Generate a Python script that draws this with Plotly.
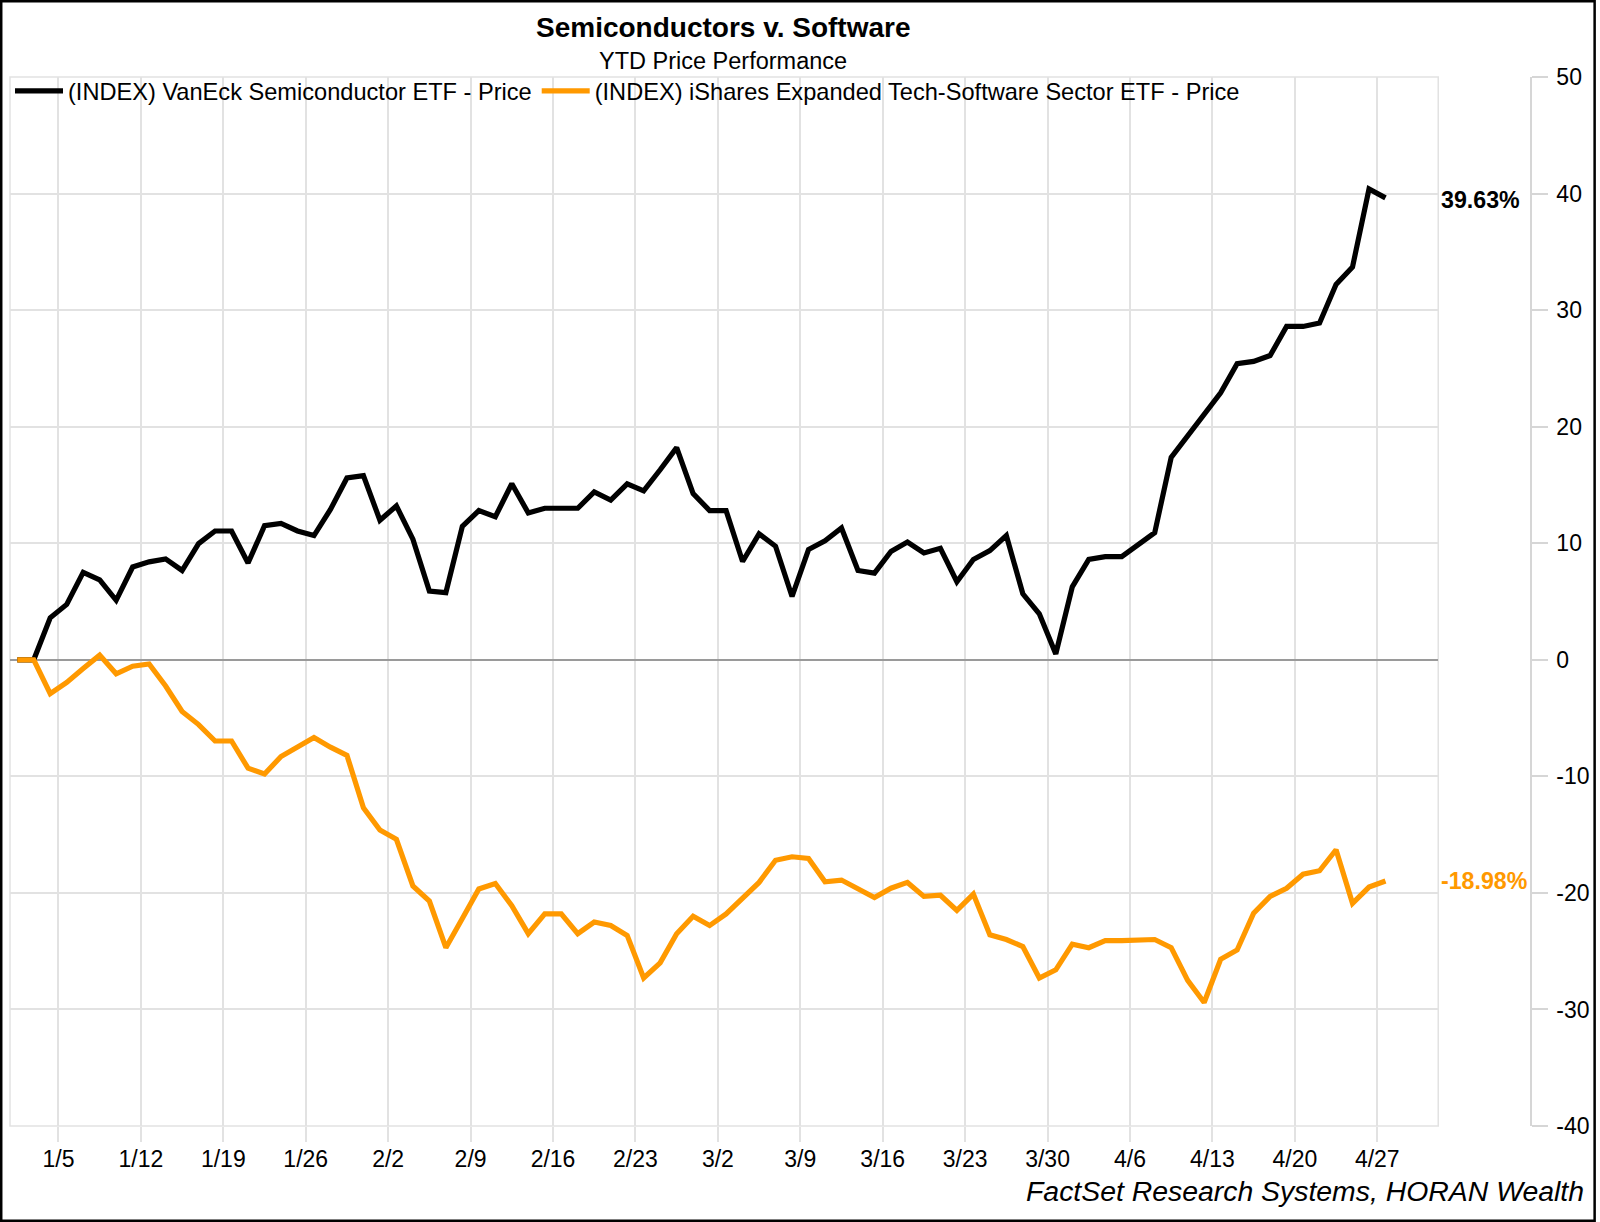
import pandas as pd
import plotly.graph_objects as go

# ---------------- data ----------------
# weekday calendar (holidays carried flat), base 12/31/2025
dates = pd.bdate_range("2025-12-31", "2026-04-27")
date_labels = [f"{d.month}/{d.day}" for d in dates]

semis_name = "(INDEX) VanEck Semiconductor ETF - Price"
software_name = "(INDEX) iShares Expanded Tech-Software Sector ETF - Price"

semis = [
    0.0, 0.0, 3.6, 4.75, 7.5, 6.85, 5.1, 7.96, 8.4, 8.65,
    7.66, 9.97, 11.05, 11.05, 8.3, 11.5, 11.7, 11.05, 10.66, 12.9,
    15.6, 15.8, 11.97, 13.2, 10.35, 5.9, 5.76, 11.44, 12.8, 12.27,
    15.1, 12.6, 13.0, 13.0, 13.0, 14.4, 13.7, 15.1, 14.5, 16.3,
    18.2, 14.25, 12.8, 12.8, 8.43, 10.8, 9.74, 5.43, 9.46, 10.2,
    11.3, 7.66, 7.43, 9.3, 10.1, 9.17, 9.57, 6.7, 8.6, 9.37,
    10.66, 5.66, 3.94, 0.5, 6.26, 8.62, 8.85, 8.85, 9.93, 10.9,
    17.37, 19.2, 21.1, 22.9, 25.4, 25.6, 26.1, 28.6, 28.6, 28.9,
    32.2, 33.7, 40.4, 39.63,
]

software = [
    0.0, 0.0, -2.9, -1.95, -0.75, 0.4, -1.2, -0.55, -0.36, -2.25,
    -4.44, -5.56, -6.97, -6.97, -9.3, -9.8, -8.3, -7.5, -6.67, -7.5,
    -8.2, -12.7, -14.6, -15.4, -19.4, -20.7, -24.7, -22.2, -19.66, -19.2,
    -21.1, -23.5, -21.8, -21.8, -23.5, -22.5, -22.8, -23.65, -27.3, -26.0,
    -23.5, -22.0, -22.8, -21.8, -20.5, -19.1, -17.2, -16.9, -17.05, -19.05,
    -18.9, -19.6, -20.4, -19.6, -19.1, -20.3, -20.2, -21.5, -20.1, -23.6,
    -24.0, -24.6, -27.3, -26.6, -24.4, -24.7, -24.1, -24.1, -24.0, -24.0,
    -24.7, -27.5, -29.4, -25.7, -24.9, -21.75, -20.3, -19.6, -18.4, -18.1,
    -16.3, -20.9, -19.5, -18.98,
]

tick_labels = ["1/5", "1/12", "1/19", "1/26", "2/2", "2/9", "2/16", "2/23",
               "3/2", "3/9", "3/16", "3/23", "3/30", "4/6", "4/13", "4/20", "4/27"]
y_ticks = [50, 40, 30, 20, 10, 0, -10, -20, -30, -40]
y_tick_labels = ["50", "40", "30", "20", "10", "0", "-10", "-20", "-30", "-40"]

title_text = "Semiconductors v. Software"
subtitle_text = "YTD Price Performance"
source_text = "FactSet Research Systems, HORAN Wealth"

# ---------------- figure ----------------
FONT = "Liberation Sans, Arial, sans-serif"
BLACK = "#000000"
ORANGE = "#FF9900"
GRID = "#e2e2e2"

W, H = 1600, 1222
ML, MR, MT, MB = 10, 65, 77, 96
PW = W - ML - MR          # paper width in px
PH = H - MT - MB          # paper height in px
x_dom_end = 1432 / PW     # plot area right edge


def px_x(px):
    return (px - ML) / PW


def px_y(py):
    return (H - MB - py) / PH


xpos = list(range(len(dates)))
tickvals = [date_labels.index(t) - 0.5 for t in tick_labels]

fig = go.Figure()
fig.add_trace(go.Scatter(
    x=xpos, y=semis, name=semis_name, mode="lines",
    line=dict(color=BLACK, width=5.2), customdata=date_labels,
    hovertemplate="%{customdata}: %{y:.2f}%<extra></extra>",
))
fig.add_trace(go.Scatter(
    x=xpos, y=software, name=software_name, mode="lines",
    line=dict(color=ORANGE, width=5.2), customdata=date_labels,
    hovertemplate="%{customdata}: %{y:.2f}%<extra></extra>",
))

fig.update_layout(
    width=W, height=H,
    margin=dict(l=ML, r=MR, t=MT, b=MB, pad=0),
    paper_bgcolor="white", plot_bgcolor="white",
    font=dict(family=FONT, size=23, color=BLACK),
    showlegend=True,
    legend=dict(
        orientation="h", x=0.0, xanchor="left", y=1.0 + 8 / PH, yanchor="top",
        font=dict(family=FONT, size=23.6, color=BLACK),
        bgcolor="rgba(0,0,0,0)", itemwidth=48, traceorder="normal",
    ),
    xaxis=dict(
        domain=[0, x_dom_end], range=[-0.44, 86.2],
        tickmode="array", tickvals=tickvals, ticktext=tick_labels,
        showgrid=True, gridcolor=GRID, gridwidth=1.5,
        ticks="outside", ticklen=15, tickcolor=GRID, tickwidth=1.5,
        tickfont=dict(family=FONT, size=23, color=BLACK),
        ticklabelstandoff=-3,
        showline=False, zeroline=False, fixedrange=True,
    ),
    yaxis=dict(
        range=[-40, 50], tickmode="array", tickvals=y_ticks, ticktext=y_tick_labels,
        side="right", anchor="free", position=1.0,
        showline=True, linecolor="#d6d6d6", linewidth=1.5,
        ticks="outside", ticklen=16, tickcolor="#d6d6d6", tickwidth=1.5,
        showgrid=True, gridcolor=GRID, gridwidth=1.5,
        zeroline=True, zerolinecolor="#9a9a9a", zerolinewidth=1.5,
        tickfont=dict(family=FONT, size=23, color=BLACK),
        ticklabelstandoff=4, fixedrange=True,
    ),
    shapes=[
        # plot-area frame
        dict(type="rect", xref="x domain", yref="y domain", x0=0, x1=1, y0=0, y1=1,
             line=dict(color=GRID, width=1.5), layer="below"),
        # outer border
        dict(type="rect", xref="paper", yref="paper",
             x0=px_x(1.2), x1=px_x(W - 1.2), y0=px_y(H - 1.2), y1=px_y(1.2),
             line=dict(color=BLACK, width=2.5), layer="above"),
    ],
    annotations=[
        dict(text=f"<b>{title_text}</b>", xref="paper", yref="paper",
             x=px_x(725), y=px_y(27.5), xanchor="center", yanchor="middle",
             showarrow=False, font=dict(family=FONT, size=28, color=BLACK)),
        dict(text=subtitle_text, xref="paper", yref="paper",
             x=px_x(725), y=px_y(61), xanchor="center", yanchor="middle",
             showarrow=False, font=dict(family=FONT, size=23.5, color=BLACK)),
        dict(text=f"<i>{source_text}</i>", xref="paper", yref="paper",
             x=px_x(1590), y=px_y(1191), xanchor="right", yanchor="middle",
             showarrow=False, font=dict(family=FONT, size=28.4, color=BLACK)),
        dict(text=f"<b>{semis[-1]:.2f}%</b>", xref="x domain", yref="y",
             x=1, y=semis[-1], xanchor="left", yanchor="middle", xshift=1, yshift=-2,
             showarrow=False, font=dict(family=FONT, size=23.2, color=BLACK)),
        dict(text=f"<b>{software[-1]:.2f}%</b>", xref="x domain", yref="y",
             x=1, y=software[-1], xanchor="left", yanchor="middle", xshift=1,
             showarrow=False, font=dict(family=FONT, size=23.2, color=ORANGE)),
    ],
)

fig.write_html("out.html", config={"displayModeBar": False},
               post_script="document.body.style.margin='0px';")
